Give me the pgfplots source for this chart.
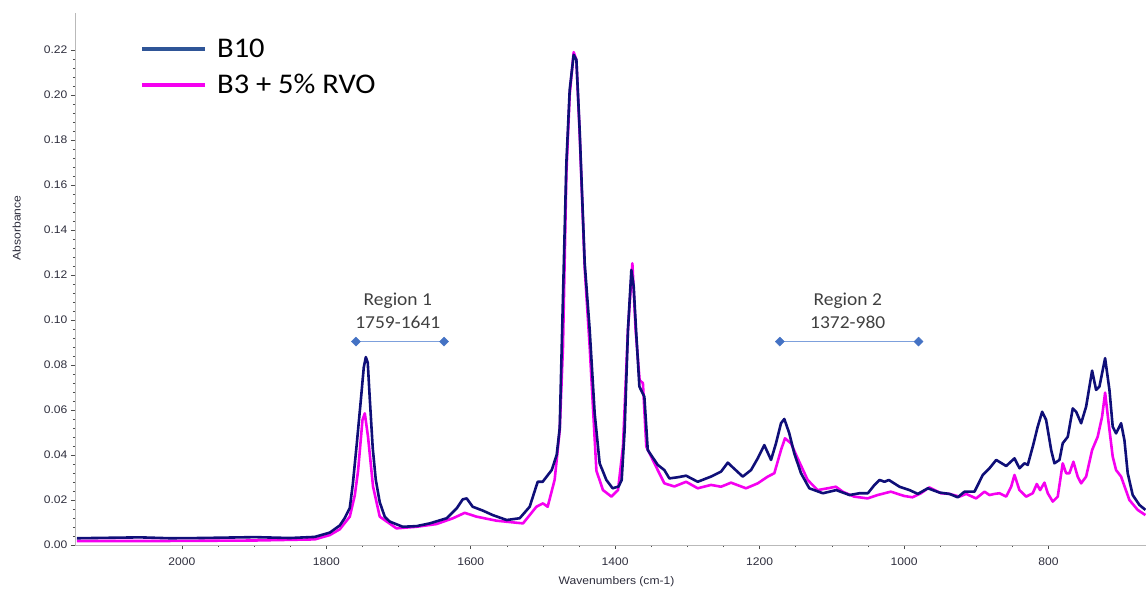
\documentclass[border=0pt]{standalone}
\usepackage{fontspec}
\setmainfont{Liberation Sans}[FakeStretch=1.1]
\newfontfamily\calibri{Carlito}[FakeStretch=1.07]
\usepackage{pgfplots}
\pgfplotsset{compat=1.18}
\definecolor{navyline}{RGB}{15,15,120}
\definecolor{magline}{RGB}{245,0,240}
\definecolor{legblue}{RGB}{47,85,151}
\definecolor{regline}{RGB}{125,160,220}
\definecolor{regmark}{RGB}{68,114,196}
\definecolor{txtgray}{RGB}{64,64,64}
\definecolor{ticktxt}{RGB}{45,45,60}

\pgfplotstableread{
w y
2145.3 0.0030
2058.1 0.0034
2016.6 0.0030
1975.1 0.0031
1899.0 0.0035
1850.5 0.0031
1815.9 0.0036
1795.2 0.0055
1781.3 0.0087
1774.4 0.0120
1767.5 0.0165
1763.3 0.0270
1757.8 0.0450
1752.3 0.0640
1748.1 0.0790
1745.3 0.0835
1742.6 0.0810
1739.8 0.0650
1735.7 0.0430
1731.5 0.0290
1726.0 0.0190
1719.0 0.0125
1712.1 0.0104
1694.1 0.0081
1674.8 0.0084
1656.8 0.0096
1633.2 0.0119
1619.4 0.0163
1611.1 0.0203
1605.6 0.0207
1597.3 0.0170
1583.4 0.0153
1569.6 0.0133
1550.2 0.0111
1532.2 0.0119
1518.4 0.0170
1507.3 0.0281
1500.4 0.0281
1487.9 0.0333
1481.0 0.0400
1476.8 0.0520
1472.7 0.1050
1467.6 0.1696
1463.0 0.2022
1457.5 0.2178
1453.7 0.2156
1449.2 0.1844
1442.2 0.1252
1435.3 0.0956
1428.4 0.0585
1421.5 0.0363
1412.2 0.0289
1403.5 0.0252
1395.2 0.0260
1391.0 0.0289
1386.9 0.0511
1382.3 0.0956
1377.6 0.1222
1374.4 0.1150
1371.1 0.0956
1366.5 0.0704
1359.6 0.0659
1354.9 0.0422
1341.1 0.0356
1331.9 0.0333
1325.0 0.0296
1313.4 0.0301
1301.8 0.0308
1285.7 0.0281
1267.3 0.0304
1253.4 0.0326
1244.1 0.0366
1237.2 0.0345
1223.4 0.0304
1211.9 0.0333
1202.6 0.0385
1193.5 0.0444
1184.2 0.0378
1177.3 0.0452
1170.4 0.0541
1165.8 0.0560
1158.9 0.0496
1152.0 0.0407
1142.7 0.0319
1131.2 0.0252
1112.4 0.0230
1093.9 0.0244
1075.5 0.0222
1061.6 0.0230
1050.1 0.0230
1040.9 0.0267
1034.0 0.0289
1027.0 0.0281
1021.1 0.0289
1006.3 0.0259
992.4 0.0244
980.9 0.0227
967.1 0.0252
950.9 0.0233
937.1 0.0227
925.6 0.0212
916.3 0.0237
902.5 0.0237
891.0 0.0311
881.7 0.0341
872.4 0.0378
858.6 0.0351
847.1 0.0385
840.2 0.0341
833.3 0.0363
828.7 0.0356
821.8 0.0437
814.9 0.0526
808.8 0.0592
803.3 0.0556
796.3 0.0422
791.8 0.0363
784.8 0.0378
780.3 0.0452
773.3 0.0481
766.4 0.0607
761.7 0.0592
754.8 0.0541
747.9 0.0615
739.6 0.0775
734.1 0.0689
729.5 0.0704
721.6 0.0830
715.6 0.0689
711.1 0.0526
706.4 0.0496
699.5 0.0541
694.9 0.0467
690.3 0.0319
683.4 0.0222
674.1 0.0178
665.8 0.0156
}\bten

\pgfplotstableread{
w y
2145.3 0.0018
2016.6 0.0018
1899.0 0.0020
1815.9 0.0025
1795.2 0.0044
1781.3 0.0070
1767.5 0.0126
1760.6 0.0220
1756.0 0.0330
1749.9 0.0556
1746.7 0.0585
1742.2 0.0480
1735.3 0.0260
1726.0 0.0126
1702.9 0.0074
1675.2 0.0081
1647.5 0.0093
1624.5 0.0119
1608.3 0.0143
1592.1 0.0126
1564.4 0.0108
1527.6 0.0096
1509.1 0.0170
1500.0 0.0185
1493.5 0.0170
1483.8 0.0290
1476.8 0.0510
1472.3 0.0880
1467.6 0.1650
1463.0 0.2000
1457.5 0.2190
1453.7 0.2156
1449.2 0.1830
1442.2 0.1230
1435.3 0.0880
1426.0 0.0330
1416.9 0.0244
1405.2 0.0215
1396.1 0.0244
1389.2 0.0437
1382.3 0.0956
1376.2 0.1252
1371.7 0.0956
1366.2 0.0733
1361.6 0.0719
1356.9 0.0437
1341.1 0.0333
1331.9 0.0274
1318.0 0.0260
1301.8 0.0281
1285.7 0.0252
1267.3 0.0267
1253.4 0.0259
1239.6 0.0277
1218.8 0.0252
1202.6 0.0274
1188.7 0.0304
1179.6 0.0319
1170.4 0.0422
1164.9 0.0474
1156.6 0.0452
1147.3 0.0385
1133.5 0.0289
1119.6 0.0244
1105.8 0.0252
1094.4 0.0259
1085.0 0.0237
1069.1 0.0215
1050.5 0.0207
1036.7 0.0222
1018.3 0.0237
1000.0 0.0218
988.4 0.0212
976.6 0.0230
965.1 0.0256
948.9 0.0230
937.1 0.0227
923.3 0.0215
914.0 0.0227
900.2 0.0207
888.6 0.0237
881.7 0.0222
874.8 0.0227
867.9 0.0230
858.6 0.0215
851.7 0.0259
847.1 0.0311
840.2 0.0244
830.9 0.0215
821.8 0.0230
816.2 0.0271
811.6 0.0244
805.6 0.0277
801.0 0.0230
794.1 0.0193
787.2 0.0215
780.3 0.0363
775.6 0.0319
771.0 0.0319
765.5 0.0370
759.6 0.0304
754.8 0.0274
747.9 0.0304
739.6 0.0422
731.9 0.0481
725.8 0.0570
721.6 0.0677
716.7 0.0541
711.1 0.0393
706.4 0.0333
699.5 0.0304
688.0 0.0200
676.5 0.0156
665.8 0.0133
}\bthree

\begin{document}
\begin{tikzpicture}
\useasboundingbox (0,0) rectangle (1146pt,590pt);
\begin{axis}[
  at={(75pt,45pt)}, anchor=south west, scale only axis,
  width=1071pt, height=532pt,
  xmin=665, xmax=2148, x dir=reverse,
  ymin=0, ymax=0.2364,
  axis lines=left,
  axis line style={-, draw=gray!55, line width=0.8pt},
  xtick={800,1000,1200,1400,1600,1800,2000},
  ytick={0,0.02,0.04,0.06,0.08,0.10,0.12,0.14,0.16,0.18,0.20,0.22},
  minor x tick num=3, minor y tick num=4,
  tick align=outside, major tick length=4pt, minor tick length=2pt,
  tick style={draw=black!70, line width=0.6pt},
  /pgf/number format/assume math mode=true,
  tick label style={font=\fontsize{11}{13}\selectfont, text=ticktxt},
  x tick label style={/pgf/number format/1000 sep={}, yshift=-5pt},
  y tick label style={/pgf/number format/fixed, /pgf/number format/fixed zerofill, /pgf/number format/precision=2},
  xlabel={Wavenumbers (cm-1)},
  xlabel style={at={(axis description cs:0.5056,-0.069)}, anchor=center, font=\fontsize{11}{13}\selectfont, text=ticktxt},
  ylabel={Absorbance},
  ylabel style={at={(axis description cs:-0.0544,0.596)}, anchor=center, font=\fontsize{11}{13}\selectfont, text=ticktxt},
  legend style={draw=none, fill=none, at={(axis description cs:0.0607,0.955)}, anchor=north west,
     font=\calibri\fontsize{28.5}{34}\selectfont, text=black, row sep=11pt, column sep=8pt, inner sep=0pt,
     nodes={inner sep=2pt}},
  legend cell align=left,
  legend image code/.code={\draw[#1] (0pt,0pt) -- (63pt,0pt);},
]
\addplot[forget plot, magline, line width=2.6pt, line join=round] table[x=w,y=y] {\bthree};
\addplot[forget plot, navyline, line width=2.6pt, line join=round] table[x=w,y=y] {\bten};

\addplot[forget plot, regline, line width=1.4pt, mark=square*, mark size=3.2pt,
  mark options={fill=regmark, draw=regmark, rotate=45, line width=0.4pt}]
  coordinates {(1759,0.0904) (1637,0.0904)};
\addplot[forget plot, regline, line width=1.4pt, mark=square*, mark size=3.2pt,
  mark options={fill=regmark, draw=regmark, rotate=45, line width=0.4pt}]
  coordinates {(1172,0.0904) (980,0.0904)};

\node[font=\calibri\fontsize{18.2}{23.7}\selectfont, text=txtgray, align=center]
  at (axis cs:1701,0.1041) {Region 1\\1759-1641};
\node[font=\calibri\fontsize{18.2}{23.7}\selectfont, text=txtgray, align=center]
  at (axis cs:1078,0.1041) {Region 2\\1372-980};

\addlegendimage{legblue, line width=4pt}
\addlegendentry{B10}
\addlegendimage{magline, line width=4pt}
\addlegendentry{B3 + 5\% RVO}
\end{axis}
\end{tikzpicture}
\end{document}
